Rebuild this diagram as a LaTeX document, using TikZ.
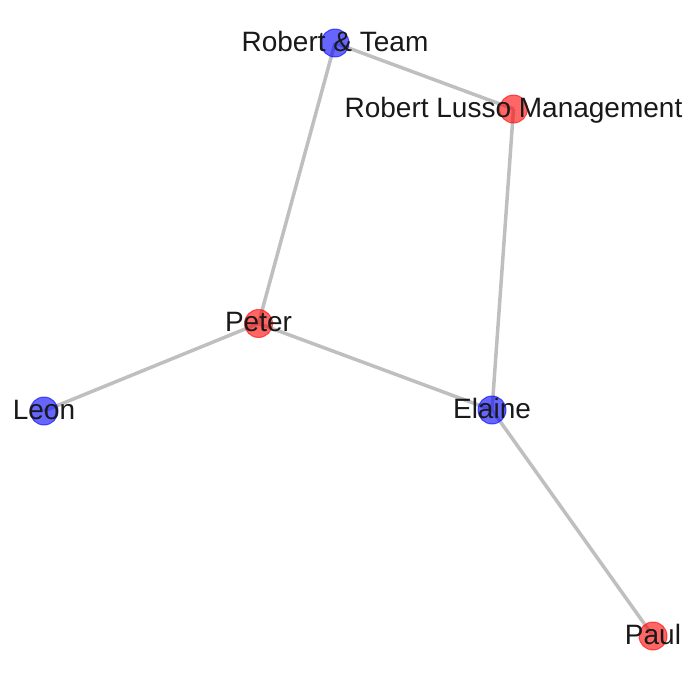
\documentclass[tikz,border=0pt]{standalone}
\usepackage{fontspec}
\setmainfont{Liberation Sans}
\begin{document}
\begin{tikzpicture}[x=1pt,y=-1pt,
  edge/.style={draw=black!25, line width=3.5pt},
  bnode/.style={circle, minimum size=28pt, inner sep=0pt, fill=blue, draw=blue, line width=1pt, opacity=0.6},
  rnode/.style={circle, minimum size=28pt, inner sep=0pt, fill=red, draw=red, line width=1pt, opacity=0.6},
  lbl/.style={font=\fontsize{28}{33}\selectfont, text=black!90, inner sep=0pt, text height=0.72em, text depth=0.1em, anchor=center, yshift=-5pt}]
\useasboundingbox (0,0) rectangle (698,681);
\coordinate (rt) at (335,43);
\coordinate (rl) at (513.5,109);
\coordinate (pe) at (258.5,323.5);
\coordinate (le) at (44,411);
\coordinate (el) at (492,410);
\coordinate (pa) at (653,636);
\draw[edge] (rt) -- (rl);
\draw[edge] (rt) -- (pe);
\draw[edge] (rl) -- (el);
\draw[edge] (pe) -- (le);
\draw[edge] (pe) -- (el);
\draw[edge] (el) -- (pa);
\node[bnode] (nrt) at (rt) {};
\node[rnode] (nrl) at (rl) {};
\node[rnode] (npe) at (pe) {};
\node[bnode] (nle) at (le) {};
\node[bnode] (nel) at (el) {};
\node[rnode] (npa) at (pa) {};
\node[lbl] (trt) at (rt) {Robert \& Team};
\node[lbl] (trl) at (rl) {Robert Lusso Management};
\node[lbl] (tpe) at (pe) {Peter};
\node[lbl] (tle) at (le) {Leon};
\node[lbl] (tel) at (el) {Elaine};
\node[lbl] (tpa) at (pa) {Paul};
\end{tikzpicture}
\end{document}
